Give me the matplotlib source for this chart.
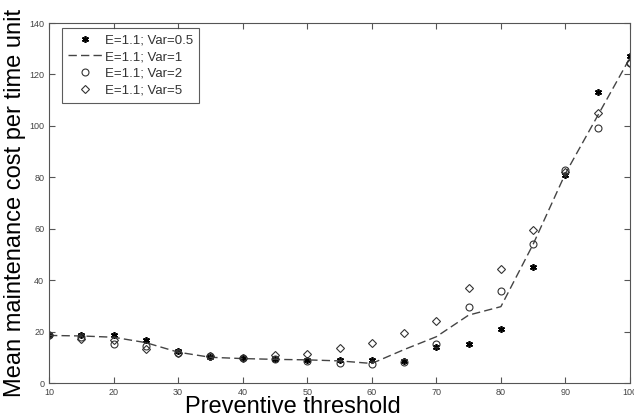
import matplotlib.pyplot as plt
import numpy as np

plt.rcParams['font.family'] = ['Liberation Sans', 'DejaVu Sans']

# Preventive threshold values
threshold = [10, 15, 20, 25, 30, 35, 40, 45, 50, 55, 60, 65, 70, 75, 80, 85, 90, 95, 100]

# Mean maintenance cost per time unit
var05 = [18.7, 18.5, 18.6, 16.7, 12.5, 10.0, 9.6, 9.2, 9.0, 8.8, 9.0, 8.7, 14.0, 15.0, 21.0, 45.1, 80.9, 113.0, 127.0]
var1 = [18.5, 18.3, 17.8, 15.7, 12.0, 10.0, 9.5, 9.2, 9.0, 8.6, 7.6, 13.0, 18.0, 26.4, 29.7, 54.0, 81.5, 104.0, 126.5]
var2 = [18.7, 17.9, 15.0, 14.5, 11.8, 10.6, 9.6, 9.4, 8.4, 7.9, 7.5, 8.3, 15.3, 29.6, 35.9, 53.9, 82.8, 99.3, 124.3]
var5 = [18.7, 17.0, 16.7, 13.2, 11.8, 10.6, 9.6, 10.9, 11.4, 13.6, 15.4, 19.6, 24.0, 36.8, 44.3, 59.5, 82.0, 105.0, 124.5]

labels = ['E=1.1; Var=0.5', 'E=1.1; Var=1', 'E=1.1; Var=2', 'E=1.1; Var=5']

fig = plt.figure(figsize=(6.34, 4.19), dpi=100)
ax = fig.add_axes([0.0773, 0.0859, 0.9164, 0.8591])

# asterisk-like marker as in matlab
ax.plot(threshold, var05, ls='none', marker=(6, 2, 0), color='black', markersize=5, mew=1.2, label=labels[0])
ax.plot(threshold, var1, '--', color='#444444', linewidth=1, dashes=(6, 3), label=labels[1])
ax.plot(threshold, var2, 'o', mfc='none', mec='#333333', markersize=5, mew=0.8, label=labels[2])
ax.plot(threshold, var5, 'D', mfc='none', mec='#333333', markersize=4.5, mew=0.8, label=labels[3])

ax.set_xlim(10, 100)
ax.set_ylim(0, 140)
ax.set_xticks(np.arange(10, 101, 10))
ax.set_yticks(np.arange(0, 141, 20))
ax.tick_params(direction='in', top=True, right=True, labelsize=6.5, colors='#555555', labelcolor='#444444', length=4)
for s in ax.spines.values():
    s.set_color('#555555')

ax.set_xlabel('Preventive threshold', fontsize=17, labelpad=0)
ax.xaxis.set_label_coords(0.42, -0.035, transform=ax.transAxes)
ax.xaxis.label.set_va('top')
ax.set_ylabel('Mean maintenance cost per time unit', fontsize=17, labelpad=2)

leg = ax.legend(loc='upper left', bbox_to_anchor=(0.0224, 0.986), fontsize=9.5, frameon=True,
                fancybox=False, edgecolor='#333333', borderaxespad=0, handlelength=2.65,
                handletextpad=0.15, labelspacing=0.35, borderpad=0.45)
leg.get_frame().set_linewidth(0.8)
for t in leg.get_texts():
    t.set_color('#333333')

fig.savefig('out.png', dpi=100)
